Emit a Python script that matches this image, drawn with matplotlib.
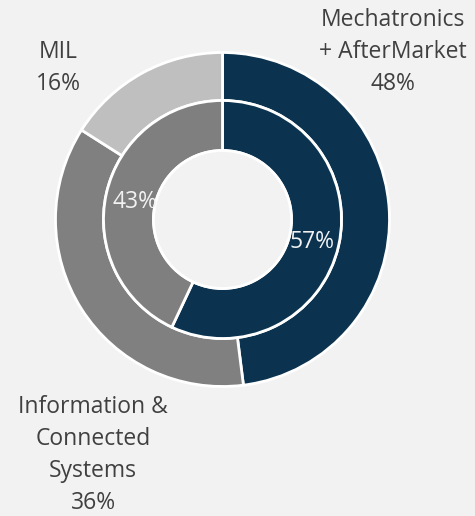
import matplotlib
matplotlib.use("Agg")
import matplotlib.pyplot as plt

# Data
outer_labels = ["Mechatronics\n+ AfterMarket", "Information &\nConnected\nSystems", "MIL"]
outer_values = [48, 36, 16]
inner_values = [57, 43]

outer_colors = ["#0B3350", "#808080", "#BFBFBF"]
inner_colors = ["#0B3350", "#7F7F7F"]
bg = "#F2F2F2"

W, H = 475, 516
fig = plt.figure(figsize=(W / 100, H / 100), dpi=100, facecolor=bg)
ax = fig.add_axes([0, 0, 1, 1])
ax.set_facecolor(bg)

cx, cy = 222.5, H - 219.5
R_out, R_mid, R_in = 167, 119, 69

ax.pie(outer_values, radius=R_out, center=(cx, cy), startangle=90, counterclock=False,
       colors=outer_colors,
       wedgeprops=dict(width=R_out - R_mid, edgecolor="white", linewidth=2.0))
ax.pie(inner_values, radius=R_mid, center=(cx, cy), startangle=90, counterclock=False,
       colors=inner_colors,
       wedgeprops=dict(width=R_mid - R_in, edgecolor="white", linewidth=2.0))
hole = plt.Circle((cx, cy), R_in, facecolor=bg, edgecolor="white", linewidth=2.0)
ax.add_patch(hole)

ax.set_xlim(0, W)
ax.set_ylim(0, H)
ax.set_aspect("auto")
ax.axis("off")

font = "Open Sans"
tc = "#404040"
fs = 16.5

outer_pos = [(393, 52), (93, 455), (58, 68)]
for lab, val, (px, py) in zip(outer_labels, outer_values, outer_pos):
    ax.text(px, H - py, f"{lab}\n{val}%", ha="center", va="center", fontsize=fs,
            color=tc, family=font, linespacing=1.45)

inner_pos = [(312, 242), (135, 202)]
for val, (px, py) in zip(inner_values, inner_pos):
    ax.text(px, H - py, f"{val}%", ha="center", va="center", fontsize=fs,
            color="#F2F2F2", family=font)

fig.savefig("out.png", dpi=100, facecolor=bg)
